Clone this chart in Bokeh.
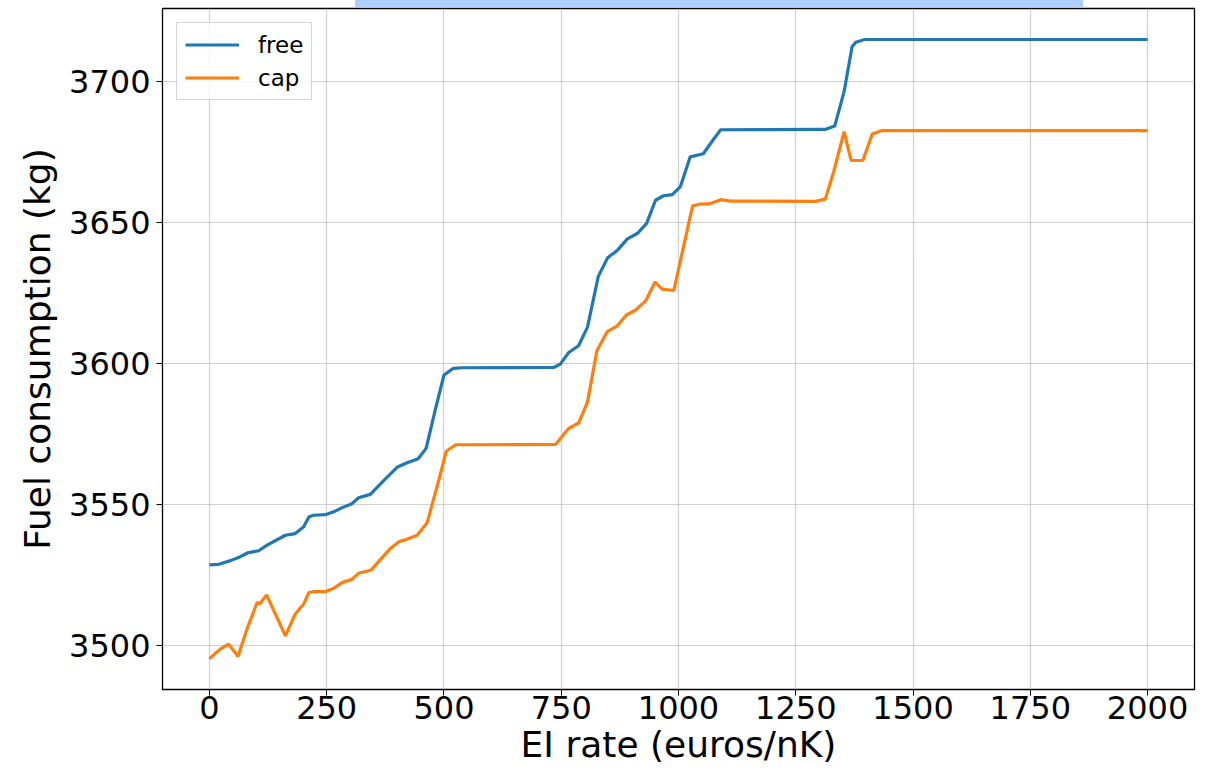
from bokeh.plotting import figure
from bokeh.models import Legend, LegendItem, FixedTicker, Range1d, Div
from bokeh.layouts import column
from bokeh.embed import file_html
from bokeh.resources import INLINE

# ---- data ----
free_x = [0, 20, 45, 66, 82, 105, 123, 162, 183, 201, 212, 222, 247, 265, 283, 304, 318, 343, 372,
          400, 420, 445, 462, 482, 500, 520, 540, 734, 748, 766, 787, 806, 829, 849, 870, 891, 913,
          932, 951, 968, 987, 1004, 1025, 1053, 1072, 1090, 1313, 1333, 1353, 1370, 1378, 1397, 2000]
free_y = [3528.7, 3528.9, 3530.2, 3531.6, 3533.0, 3533.7, 3535.7, 3539.2, 3539.8, 3542.2, 3545.7,
          3546.3, 3546.5, 3547.5, 3549.0, 3550.4, 3552.5, 3553.7, 3558.7, 3563.3, 3564.8, 3566.3,
          3570.0, 3584.0, 3596.0, 3598.4, 3598.6, 3598.7, 3599.9, 3604.0, 3606.4, 3613.0, 3631.0,
          3637.6, 3640.3, 3644.3, 3646.3, 3649.8, 3658.0, 3659.6, 3660.0, 3662.8, 3673.4, 3674.5,
          3679.0, 3683.0, 3683.1, 3684.3, 3696.5, 3712.4, 3714.0, 3715.0, 3715.0]

cap_x = [0, 23, 41, 61, 82, 102, 107, 122, 162, 183, 201, 212, 224, 247, 265, 283, 304, 318, 345,
         384, 404, 421, 443, 464, 489, 505, 525, 738, 766, 787, 806, 826, 848, 869, 889, 908, 930,
         950, 965, 990, 1030, 1045, 1065, 1090, 1110, 1292, 1313, 1331, 1353, 1368, 1393, 1413,
         1434, 2000]
cap_y = [3495.4, 3498.8, 3500.6, 3496.2, 3506.8, 3515.4, 3514.8, 3518.0, 3503.5, 3511.3, 3514.8,
         3518.9, 3519.2, 3519.2, 3520.4, 3522.4, 3523.6, 3525.7, 3526.9, 3534.2, 3536.9, 3537.8,
         3539.2, 3543.6, 3558.7, 3569.0, 3571.3, 3571.4, 3577.1, 3579.0, 3586.4, 3604.6, 3611.4,
         3613.4, 3617.3, 3619.0, 3622.3, 3629.0, 3626.5, 3626.0, 3656.0, 3656.6, 3656.7, 3658.2,
         3657.7, 3657.6, 3658.4, 3668.2, 3682.3, 3672.1, 3672.1, 3681.5, 3682.7, 3682.7]

x_ticks = [0, 250, 500, 750, 1000, 1250, 1500, 1750, 2000]
y_ticks = [3500, 3550, 3600, 3650, 3700]

FONT = "DejaVu Sans"

p = figure(width=1208, height=764, output_backend="svg", toolbar_location=None,
           x_range=Range1d(-100, 2100), y_range=Range1d(3484.5, 3726.0),
           min_border_left=162, min_border_right=14, min_border_top=1, min_border_bottom=82)

p.background_fill_color = "white"
p.outline_line_color = "black"
p.outline_line_width = 1.3

r1 = p.line(free_x, free_y, line_color="#1f77b4", line_width=3.2)
r2 = p.line(cap_x, cap_y, line_color="#ff7f0e", line_width=3.2)

for ax in (p.xaxis[0], p.yaxis[0]):
    ax.major_label_text_font = FONT
    ax.major_label_text_font_size = "32px"
    ax.major_label_text_color = "black"
    ax.axis_label_text_font = FONT
    ax.axis_label_text_font_size = "36px"
    ax.axis_label_text_font_style = "normal"
    ax.axis_label_text_color = "black"
    ax.major_tick_out = 6
    ax.major_tick_in = 0
    ax.minor_tick_out = 0
    ax.minor_tick_in = 0
    ax.axis_line_color = "black"
    ax.major_tick_line_color = "black"

p.xaxis[0].major_label_standoff = 0
p.xaxis[0].axis_label_standoff = 2
p.yaxis[0].major_label_standoff = 6
p.yaxis[0].axis_label_standoff = 8

p.xaxis[0].ticker = FixedTicker(ticks=x_ticks)
p.yaxis[0].ticker = FixedTicker(ticks=y_ticks)
p.xaxis[0].axis_label = "EI rate (euros/nK)"
p.yaxis[0].axis_label = "Fuel consumption (kg)"

p.xgrid.grid_line_color = "#b0b0b0"
p.ygrid.grid_line_color = "#b0b0b0"
p.xgrid.grid_line_alpha = 0.6
p.ygrid.grid_line_alpha = 0.6
p.xgrid.grid_line_width = 1.2
p.ygrid.grid_line_width = 1.2

legend = Legend(items=[LegendItem(label="free", renderers=[r1]),
                       LegendItem(label="cap", renderers=[r2])],
                location="top_left")
legend.margin = 14
legend.padding = 8
legend.spacing = 6
legend.glyph_width = 54
legend.glyph_height = 27
legend.label_height = 27
legend.label_standoff = 19
legend.label_text_font = FONT
legend.label_text_font_size = "23px"
legend.label_text_color = "black"
legend.border_line_color = "#cccccc"
legend.border_line_alpha = 0.8
legend.background_fill_color = "white"
legend.background_fill_alpha = 0.8
p.add_layout(legend)

# light blue strip at the very top (remains of a cropped title box)
bar = Div(text="", width=728, height=7, margin=(0, 0, 0, 355),
          styles={"background-color": "#aecffb"})

layout = column(bar, p, spacing=0)

open("out.html", "w").write(file_html(layout, INLINE))
